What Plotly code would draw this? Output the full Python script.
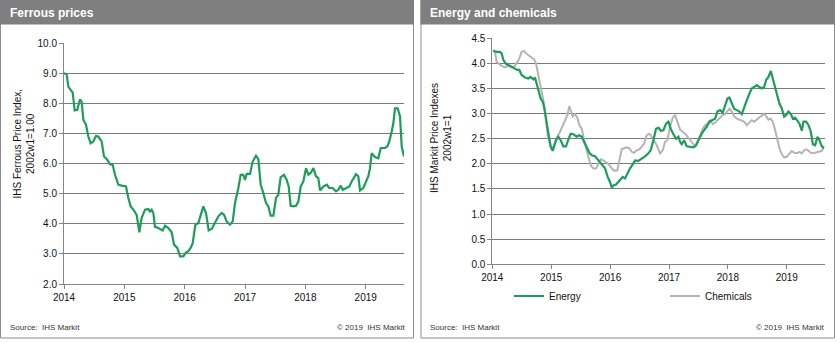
import plotly.graph_objects as go

W, H = 840, 343

# ---------------- Data (decimal year, index value) ----------------
ferrous_t = [2014.000, 2014.044, 2014.072, 2014.110, 2014.144, 2014.177, 2014.221, 2014.265, 2014.293,
             2014.320, 2014.365, 2014.403, 2014.442, 2014.486, 2014.530, 2014.569, 2014.624, 2014.663,
             2014.718, 2014.762, 2014.807, 2014.845, 2014.901, 2014.956, 2015.028, 2015.066, 2015.105,
             2015.149, 2015.204, 2015.249, 2015.287, 2015.343, 2015.398, 2015.425, 2015.453, 2015.481,
             2015.508, 2015.564, 2015.635, 2015.674, 2015.729, 2015.785, 2015.823, 2015.878, 2015.923,
             2015.978, 2016.022, 2016.061, 2016.099, 2016.133, 2016.177, 2016.227, 2016.265, 2016.309,
             2016.354, 2016.398, 2016.448, 2016.503, 2016.558, 2016.613, 2016.652, 2016.696, 2016.751,
             2016.796, 2016.834, 2016.890, 2016.928, 2016.972, 2017.000, 2017.028, 2017.083, 2017.127,
             2017.182, 2017.221, 2017.260, 2017.304, 2017.348, 2017.387, 2017.425, 2017.470, 2017.514,
             2017.552, 2017.591, 2017.646, 2017.691, 2017.724, 2017.757, 2017.801, 2017.845, 2017.884,
             2017.923, 2017.967, 2018.011, 2018.050, 2018.088, 2018.133, 2018.177, 2018.215, 2018.243,
             2018.298, 2018.354, 2018.398, 2018.453, 2018.508, 2018.547, 2018.586, 2018.619, 2018.674,
             2018.729, 2018.768, 2018.807, 2018.840, 2018.878, 2018.906, 2018.961, 2019.006, 2019.044,
             2019.072, 2019.099, 2019.155, 2019.210, 2019.249, 2019.320, 2019.359, 2019.392, 2019.431,
             2019.459, 2019.486, 2019.530, 2019.569, 2019.597, 2019.635]
ferrous_v = [9.00, 8.97, 8.56, 8.43, 8.36, 7.77, 7.79, 8.14, 8.06,
             7.46, 7.29, 6.90, 6.68, 6.74, 6.92, 6.90, 6.74, 6.24,
             6.13, 5.98, 5.96, 5.63, 5.30, 5.27, 5.24, 4.86, 4.58,
             4.47, 4.30, 3.72, 4.20, 4.47, 4.49, 4.41, 4.47, 4.36,
             3.90, 3.86, 3.78, 3.94, 3.86, 3.72, 3.31, 3.20, 2.92,
             2.92, 3.05, 3.09, 3.20, 3.36, 3.97, 4.03, 4.25, 4.58,
             4.36, 3.78, 3.83, 4.03, 4.25, 4.36, 4.30, 4.08, 3.97,
             4.08, 4.69, 5.19, 5.63, 5.63, 5.46, 5.66, 5.66, 6.07,
             6.26, 6.15, 5.30, 5.02, 4.69, 4.58, 4.27, 4.27, 4.86,
             4.97, 5.55, 5.63, 5.46, 5.24, 4.60, 4.58, 4.60, 4.74,
             5.24, 5.41, 5.85, 5.63, 5.69, 5.85, 5.58, 5.52, 5.11,
             5.24, 5.30, 5.19, 5.19, 5.08, 5.13, 5.27, 5.13, 5.18,
             5.24, 5.41, 5.52, 5.65, 5.58, 5.11, 5.19, 5.41, 5.58,
             5.85, 6.35, 6.22, 6.18, 6.52, 6.52, 6.57, 6.74, 7.07,
             7.35, 7.84, 7.84, 7.57, 6.57, 6.24]

energy_t = [2014.017, 2014.074, 2014.130, 2014.159, 2014.187, 2014.232, 2014.272, 2014.328, 2014.385,
            2014.425, 2014.459, 2014.498, 2014.555, 2014.612, 2014.651, 2014.697, 2014.725, 2014.753,
            2014.781, 2014.821, 2014.855, 2014.878, 2014.906, 2014.934, 2014.963, 2014.991, 2015.025,
            2015.048, 2015.082, 2015.121, 2015.161, 2015.206, 2015.251, 2015.291, 2015.331, 2015.376,
            2015.433, 2015.478, 2015.518, 2015.557, 2015.602, 2015.648, 2015.687, 2015.744, 2015.801,
            2015.857, 2015.914, 2015.959, 2015.999, 2016.027, 2016.055, 2016.101, 2016.140, 2016.169,
            2016.214, 2016.254, 2016.293, 2016.339, 2016.384, 2016.424, 2016.480, 2016.537, 2016.594,
            2016.650, 2016.690, 2016.735, 2016.780, 2016.820, 2016.860, 2016.905, 2016.950, 2016.990,
            2017.029, 2017.075, 2017.120, 2017.160, 2017.188, 2017.216, 2017.256, 2017.301, 2017.358,
            2017.415, 2017.460, 2017.499, 2017.556, 2017.596, 2017.641, 2017.686, 2017.726, 2017.782,
            2017.822, 2017.868, 2017.913, 2017.952, 2017.992, 2018.026, 2018.066, 2018.105, 2018.151,
            2018.196, 2018.236, 2018.275, 2018.321, 2018.366, 2018.405, 2018.445, 2018.490, 2018.536,
            2018.575, 2018.615, 2018.649, 2018.688, 2018.728, 2018.762, 2018.802, 2018.841, 2018.875,
            2018.915, 2018.955, 2018.989, 2019.028, 2019.068, 2019.102, 2019.141, 2019.181, 2019.215,
            2019.255, 2019.283, 2019.328, 2019.368, 2019.408, 2019.442, 2019.481, 2019.521, 2019.555,
            2019.595, 2019.634]
energy_v = [4.25, 4.23, 4.23, 4.20, 4.07, 3.99, 3.97, 3.93, 3.90,
            3.87, 3.87, 3.77, 3.72, 3.70, 3.73, 3.68, 3.72, 3.60,
            3.44, 3.30, 3.24, 3.14, 2.94, 2.74, 2.54, 2.34, 2.26,
            2.34, 2.47, 2.54, 2.47, 2.35, 2.35, 2.48, 2.60, 2.59,
            2.54, 2.57, 2.54, 2.44, 2.34, 2.22, 2.17, 2.15, 2.07,
            1.99, 1.91, 1.74, 1.64, 1.53, 1.57, 1.59, 1.64, 1.67,
            1.74, 1.71, 1.81, 1.91, 1.99, 2.07, 2.06, 2.10, 2.15,
            2.21, 2.27, 2.47, 2.70, 2.72, 2.66, 2.67, 2.80, 2.84,
            2.70, 2.59, 2.50, 2.54, 2.44, 2.39, 2.47, 2.35, 2.34,
            2.33, 2.37, 2.47, 2.60, 2.67, 2.74, 2.84, 2.87, 2.90,
            3.04, 3.07, 3.02, 3.17, 3.30, 3.32, 3.20, 3.10, 3.07,
            3.04, 2.99, 3.14, 3.27, 3.40, 3.50, 3.53, 3.57, 3.53,
            3.50, 3.53, 3.67, 3.73, 3.85, 3.70, 3.53, 3.37, 3.20,
            3.10, 2.94, 2.97, 3.04, 2.99, 2.90, 2.92, 2.84, 2.80,
            2.66, 2.84, 2.84, 2.77, 2.64, 2.39, 2.37, 2.54, 2.47,
            2.35, 2.31]

chemicals_t = [2014.017, 2014.045, 2014.074, 2014.119, 2014.159, 2014.215, 2014.272, 2014.328, 2014.385,
               2014.425, 2014.459, 2014.498, 2014.538, 2014.584, 2014.629, 2014.668, 2014.708, 2014.742,
               2014.764, 2014.798, 2014.838, 2014.878, 2014.912, 2014.940, 2014.968, 2014.991, 2015.025,
               2015.065, 2015.104, 2015.150, 2015.195, 2015.234, 2015.274, 2015.308, 2015.331, 2015.365,
               2015.404, 2015.444, 2015.478, 2015.518, 2015.557, 2015.591, 2015.631, 2015.670, 2015.716,
               2015.761, 2015.801, 2015.840, 2015.886, 2015.931, 2015.971, 2016.010, 2016.044, 2016.084,
               2016.123, 2016.157, 2016.197, 2016.237, 2016.282, 2016.327, 2016.367, 2016.407, 2016.452,
               2016.497, 2016.537, 2016.576, 2016.622, 2016.667, 2016.707, 2016.746, 2016.792, 2016.848,
               2016.894, 2016.933, 2016.973, 2017.018, 2017.063, 2017.103, 2017.143, 2017.188, 2017.233,
               2017.273, 2017.313, 2017.358, 2017.403, 2017.443, 2017.482, 2017.528, 2017.573, 2017.613,
               2017.652, 2017.698, 2017.743, 2017.782, 2017.822, 2017.868, 2017.913, 2017.952, 2017.992,
               2018.026, 2018.066, 2018.105, 2018.151, 2018.196, 2018.236, 2018.275, 2018.321, 2018.366,
               2018.405, 2018.445, 2018.490, 2018.536, 2018.575, 2018.615, 2018.649, 2018.688, 2018.728,
               2018.762, 2018.802, 2018.841, 2018.875, 2018.915, 2018.955, 2019.000, 2019.045, 2019.085,
               2019.125, 2019.170, 2019.215, 2019.255, 2019.294, 2019.340, 2019.385, 2019.425, 2019.481,
               2019.538, 2019.595, 2019.634]
chemicals_v = [4.27, 4.23, 4.03, 3.99, 3.95, 3.92, 3.95, 3.92, 3.95,
               4.03, 4.10, 4.23, 4.25, 4.19, 4.15, 4.10, 4.08, 4.00,
               3.87, 3.63, 3.40, 3.20, 2.87, 2.57, 2.44, 2.35, 2.31,
               2.44, 2.54, 2.64, 2.75, 2.84, 2.97, 3.15, 3.07, 2.94,
               2.99, 2.92, 2.77, 2.70, 2.49, 2.31, 2.14, 1.97, 1.91,
               1.91, 2.00, 2.09, 2.07, 2.04, 2.00, 1.94, 1.89, 1.86,
               1.87, 2.07, 2.29, 2.31, 2.33, 2.31, 2.24, 2.22, 2.27,
               2.29, 2.34, 2.40, 2.57, 2.60, 2.54, 2.47, 2.37, 2.21,
               2.27, 2.44, 2.47, 2.74, 2.92, 2.97, 2.84, 2.68, 2.64,
               2.60, 2.54, 2.47, 2.40, 2.35, 2.44, 2.57, 2.70, 2.77,
               2.80, 2.86, 2.79, 2.82, 2.87, 2.92, 2.97, 2.99, 3.06,
               3.10, 3.04, 2.95, 2.90, 2.88, 2.86, 2.84, 2.77, 2.82,
               2.87, 2.84, 2.88, 2.92, 2.97, 3.00, 2.95, 2.88, 2.90,
               2.84, 2.67, 2.44, 2.31, 2.19, 2.13, 2.14, 2.21, 2.26,
               2.22, 2.21, 2.24, 2.21, 2.27, 2.29, 2.24, 2.21, 2.22,
               2.24, 2.26, 2.35]

year_ticks = [2014, 2015, 2016, 2017, 2018, 2019]
year_labels = ["2014", "2015", "2016", "2017", "2018", "2019"]
ferrous_yticks = [2.0, 3.0, 4.0, 5.0, 6.0, 7.0, 8.0, 9.0, 10.0]
chem_yticks = [0.0, 0.5, 1.0, 1.5, 2.0, 2.5, 3.0, 3.5, 4.0, 4.5]

GREEN = "#1e9c5a"
GREY_LINE = "#b4b4b4"
FONT = "Liberation Sans, Arial, sans-serif"


def px_x(p):
    return p / W


def px_y(p):
    return 1 - p / H


fig = go.Figure()
fig.add_trace(go.Scatter(x=ferrous_t, y=ferrous_v, mode="lines", line=dict(color=GREEN, width=2.2),
                         xaxis="x", yaxis="y", showlegend=False, name="Ferrous"))
fig.add_trace(go.Scatter(x=chemicals_t, y=chemicals_v, mode="lines", line=dict(color=GREY_LINE, width=2.0),
                         xaxis="x2", yaxis="y2", name="Chemicals", legendrank=2))
fig.add_trace(go.Scatter(x=energy_t, y=energy_v, mode="lines", line=dict(color=GREEN, width=2.2),
                         xaxis="x2", yaxis="y2", name="Energy", legendrank=1))

axis_common = dict(showline=True, linecolor="#868686", linewidth=1, ticks="outside", ticklen=4,
                   tickcolor="#868686", tickfont=dict(family=FONT, size=10, color="#111"), zeroline=False)

fig.update_layout(
    width=W, height=H, margin=dict(l=0, r=0, t=0, b=0, autoexpand=False),
    paper_bgcolor="white", plot_bgcolor="white",
    font=dict(family=FONT, size=10, color="#111"),
    xaxis=dict(domain=[px_x(64), px_x(404)], range=[2014, 2019.635], tickvals=year_ticks,
               ticktext=year_labels, showgrid=False, anchor="y", **axis_common),
    yaxis=dict(domain=[px_y(284), px_y(43.3)], range=[2.0, 10.0], tickvals=ferrous_yticks,
               ticktext=[f"{v:.1f}" for v in ferrous_yticks], showgrid=True, gridcolor="#7a7a7a",
               gridwidth=1, anchor="x", **axis_common),
    xaxis2=dict(domain=[px_x(492.3), px_x(824.5)], range=[2014, 2019.64], tickvals=year_ticks,
                ticktext=year_labels, showgrid=False, anchor="y2", **axis_common),
    yaxis2=dict(domain=[px_y(264.3), px_y(38.3)], range=[0.0, 4.5], tickvals=chem_yticks,
                ticktext=[f"{v:.1f}" for v in chem_yticks], showgrid=True, gridcolor="#7a7a7a",
                gridwidth=1, anchor="x2", **axis_common),
    legend=dict(orientation="h", x=px_x(509), y=px_y(296), yanchor="middle", xanchor="left",
                entrywidth=111, entrywidthmode="pixels", itemwidth=30, traceorder="normal",
                font=dict(family=FONT, size=10, color="#111"), bgcolor="rgba(0,0,0,0)"),
)

shapes = []
# panels: header bars and borders
for (x0, x1) in [(0, 414), (420.5, 835)]:
    shapes.append(dict(type="rect", xref="paper", yref="paper", x0=px_x(x0 + 0.5), x1=px_x(x1 - 0.5),
                       y0=px_y(338), y1=px_y(0.5), line=dict(color="#8c8c8c", width=1),
                       fillcolor="rgba(0,0,0,0)", layer="below"))
    shapes.append(dict(type="rect", xref="paper", yref="paper", x0=px_x(x0), x1=px_x(x1),
                       y0=px_y(24.5), y1=px_y(0), line=dict(width=0), fillcolor="#7f7f7f", layer="below"))
fig.update_layout(shapes=shapes)

ann = []
ann.append(dict(text="<b>Ferrous prices</b>", x=px_x(8), y=px_y(13), xref="paper", yref="paper",
                xanchor="left", yanchor="middle", showarrow=False,
                font=dict(family=FONT, size=12, color="white")))
ann.append(dict(text="<b>Energy and chemicals</b>", x=px_x(428), y=px_y(13), xref="paper", yref="paper",
                xanchor="left", yanchor="middle", showarrow=False,
                font=dict(family=FONT, size=12, color="white")))
ann.append(dict(text="IHS Ferrous Price Index,<br>2002w1=1.00", x=px_x(23.5), y=px_y(144),
                xref="paper", yref="paper", xanchor="center", yanchor="middle", textangle=-90,
                showarrow=False, font=dict(family=FONT, size=10, color="#111")))
ann.append(dict(text="IHS Markit Price Indexes<br>2002w1=1", x=px_x(441), y=px_y(138),
                xref="paper", yref="paper", xanchor="center", yanchor="middle", textangle=-90,
                showarrow=False, font=dict(family=FONT, size=10, color="#111")))
for (xl, xr) in [(8, 407), (428, 826)]:
    ann.append(dict(text="Source:  IHS Markit", x=px_x(xl), y=px_y(327), xref="paper", yref="paper",
                    xanchor="left", yanchor="middle", showarrow=False,
                    font=dict(family=FONT, size=8, color="#333")))
    ann.append(dict(text="© 2019  IHS Markit", x=px_x(xr), y=px_y(327), xref="paper", yref="paper",
                    xanchor="right", yanchor="middle", showarrow=False,
                    font=dict(family=FONT, size=8, color="#333")))
fig.update_layout(annotations=ann)

fig.write_html("out.html")
